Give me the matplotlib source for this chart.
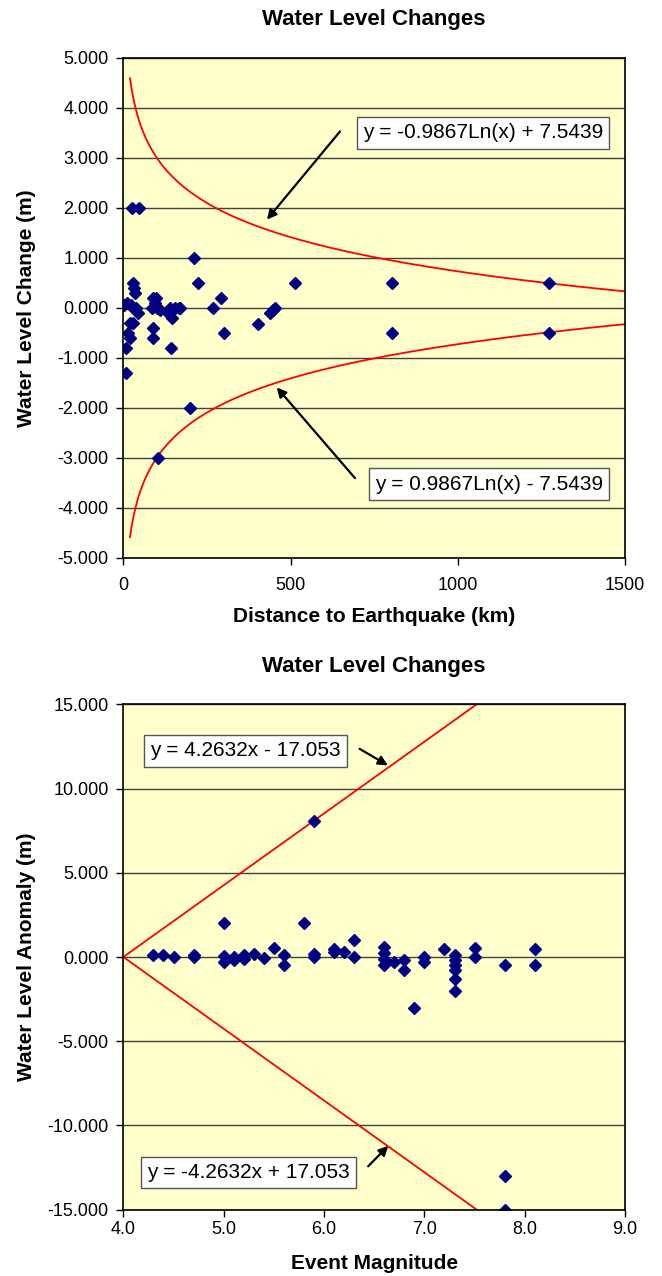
import numpy as np
import matplotlib.pyplot as plt

plt.rcParams['font.family'] = ['Liberation Sans', 'DejaVu Sans']

# Distance to earthquake (km) vs water level change (m)
distance_km = [25, 48, 212, 222, 514, 28, 32, 35,
               2, 10, 22, 30, 38, 45,
               20, 30, 15, 20, 8, 8,
               90, 98, 85, 100, 110, 95, 105,
               88, 88,
               140, 135, 145, 155, 165, 170,
               142, 199, 103, 269, 292, 301, 403,
               439, 446, 453, 802, 802, 1271, 1271]
level_change_m = [2.0, 2.0, 1.0, 0.5, 0.5, 0.5, 0.4, 0.3,
                  0.05, 0.1, 0.05, 0.0, 0.0, -0.1,
                  -0.3, -0.3, -0.5, -0.6, -0.8, -1.3,
                  0.2, 0.2, 0.0, 0.0, -0.05, 0.1, 0.0,
                  -0.4, -0.6,
                  0.0, -0.1, -0.2, 0.0, 0.0, 0.0,
                  -0.8, -2.0, -3.0, 0.0, 0.2, -0.5, -0.33,
                  -0.1, -0.05, 0.0, 0.5, -0.5, 0.5, -0.5]

# Event magnitude vs water level anomaly (m)
magnitude = [4.3, 4.4, 4.5, 4.7, 4.7,
             5.0, 5.0, 5.0, 5.1, 5.1, 5.2, 5.2, 5.3, 5.4, 5.5, 5.6, 5.6,
             5.8, 5.9, 5.9, 5.9, 6.1, 6.1, 6.2, 6.3, 6.3,
             6.6, 6.6, 6.6, 6.6, 6.7, 6.8, 6.8, 6.9, 7.0, 7.0, 7.2,
             7.3, 7.3, 7.3, 7.3, 7.3, 7.3, 7.5, 7.5, 7.8, 7.8, 7.8, 8.1, 8.1]
anomaly_m = [0.1, 0.1, 0.0, 0.1, 0.0,
             2.0, 0.05, -0.3, 0.0, -0.2, 0.1, -0.1, 0.2, -0.05, 0.55, 0.1, -0.5,
             2.0, 8.1, 0.2, 0.0, 0.45, 0.3, 0.3, 1.0, 0.0,
             0.6, 0.25, -0.1, -0.5, -0.3, -0.2, -0.8, -3.0, 0.0, -0.3, 0.5,
             0.1, -0.2, -0.5, -0.8, -1.3, -2.0, 0.55, 0.0, -0.45, -13.0, -15.0, 0.5, -0.45]

# Trendline coefficients shown on the chart
log_a, log_b = 0.9867, 7.5439
lin_a, lin_b = 4.2632, 17.053

bg = '#FFFFCC'
navy = '#000080'

fig = plt.figure(figsize=(6.62, 12.76), dpi=100)
ax1 = fig.add_axes([0.1863, 0.5629, 0.758, 0.3918])
ax2 = fig.add_axes([0.1863, 0.0521, 0.758, 0.3958])


def style_axes(ax, title, xlabel, ylabel, xlab_y, title_y, xpad):
    ax.set_facecolor(bg)
    ax.grid(True, axis='y', color='#404040', linewidth=1.0)
    ax.set_axisbelow(True)
    for s in ax.spines.values():
        s.set_color('black')
        s.set_linewidth(1.2)
    ax.tick_params(direction='out', length=5, width=1, labelsize=13, colors='black')
    ax.tick_params(axis='y', pad=5.5)
    ax.tick_params(axis='x', pad=xpad)
    ax.set_title(title, fontsize=16, fontweight='bold', y=title_y)
    ax.set_xlabel(xlabel, fontsize=15, fontweight='bold')
    ax.set_ylabel(ylabel, fontsize=15, fontweight='bold')
    ax.xaxis.set_label_coords(0.5, xlab_y)
    ax.yaxis.set_label_coords(-0.175, 0.5)


box = dict(boxstyle='square,pad=0.3', facecolor='white', edgecolor='#555555', linewidth=1)
arrow = dict(arrowstyle='-|>', color='black', linewidth=1.6, mutation_scale=14)

# Top chart
x_curve = np.linspace(20, 1500, 400)
ax1.plot(x_curve, -log_a * np.log(x_curve) + log_b, color='red', linewidth=1.3)
ax1.plot(x_curve, log_a * np.log(x_curve) - log_b, color='red', linewidth=1.3)
ax1.plot(distance_km, level_change_m, 'D', color=navy, markersize=6, linestyle='none')
ax1.set_xlim(0, 1500)
ax1.set_ylim(-5, 5)
ax1.set_xticks([0, 500, 1000, 1500])
ax1.set_yticks(np.arange(-5, 6, 1))
ax1.set_yticklabels([f'{v:.3f}' for v in np.arange(-5, 6, 1)])
style_axes(ax1, 'Water Level Changes', 'Distance to Earthquake (km)',
           'Water Level Change (m)', -0.099, 1.049, 9)
ax1.annotate('', xy=(424, 1.72), xytext=(653, 3.57), arrowprops=arrow)
ax1.text(1075, 3.5, 'y = -0.9867Ln(x) + 7.5439', fontsize=15, ha='center', va='center', bbox=box)
ax1.annotate('', xy=(453, -1.55), xytext=(698, -3.45), arrowprops=arrow)
ax1.text(1093, -3.53, 'y = 0.9867Ln(x) - 7.5439', fontsize=15, ha='center', va='center', bbox=box)

# Bottom chart
x_line = np.array([4.0, 9.0])
ax2.plot(x_line, lin_a * x_line - lin_b, color='red', linewidth=1.3)
ax2.plot(x_line, -lin_a * x_line + lin_b, color='red', linewidth=1.3)
ax2.plot(magnitude, anomaly_m, 'D', color=navy, markersize=6, linestyle='none')
ax2.set_xlim(4, 9)
ax2.set_ylim(-15, 15)
ax2.set_xticks(np.arange(4, 9.5, 1))
ax2.set_xticklabels([f'{v:.1f}' for v in np.arange(4, 9.5, 1)])
ax2.set_yticks(np.arange(-15, 16, 5))
ax2.set_yticklabels([f'{v:.3f}' for v in np.arange(-15, 16, 5)])
style_axes(ax2, 'Water Level Changes', 'Event Magnitude', 'Water Level Anomaly (m)',
           -0.088, 1.047, 3.5)
ax2.annotate('', xy=(6.66, 11.3), xytext=(6.33, 12.45), arrowprops=arrow)
ax2.text(5.22, 12.25, 'y = 4.2632x - 17.053', fontsize=15, ha='center', va='center', bbox=box)
ax2.annotate('', xy=(6.66, -11.1), xytext=(6.42, -12.55), arrowprops=arrow)
ax2.text(5.25, -12.8, 'y = -4.2632x + 17.053', fontsize=15, ha='center', va='center', bbox=box)

fig.savefig('out.png', dpi=100)
